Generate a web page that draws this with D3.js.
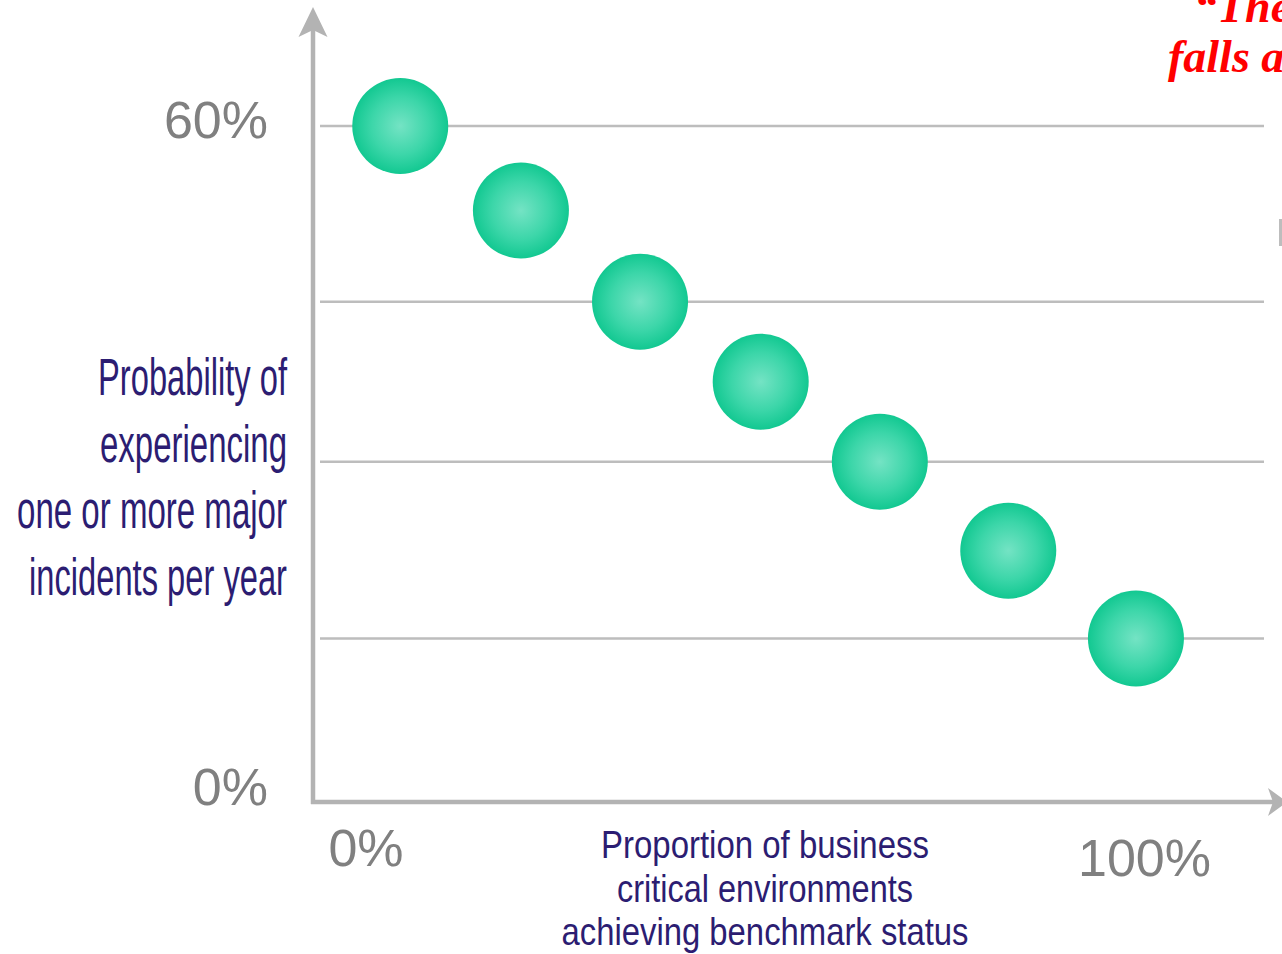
<!DOCTYPE html>
<html>
<head>
<meta charset="utf-8">
<script src="https://cdn.jsdelivr.net/npm/d3@7"></script>
<style>
  html, body { margin: 0; padding: 0; background: #fff; overflow: hidden; }
  svg { display: block; }
</style>
</head>
<body>
<svg id="chart"></svg>
<script>
// values (x = % of environments at benchmark, y = % probability)
const xValues = [4.4, 19.9, 35.2, 50.7, 66.0, 82.5, 98.9];
const yValues = [60, 52.4, 44.2, 37.0, 29.8, 21.8, 13.9];
const gridValues = [60, 44.2, 29.8, 13.9];
const yTicks = [0, 60];
const xTicks = [0, 100];
const yTitle = ["Probability of", "experiencing", "one or more major", "incidents per year"];
const xTitle = ["Proportion of business", "critical environments", "achieving benchmark status"];
const quote = ["\u201CThe", "falls a"];

const W = 1282, H = 954;
const svg = d3.select("#chart").attr("width", W).attr("height", H);

const x = d3.scaleLinear().domain([0, 100]).range([366, 1144.5]);
const y = d3.scaleLinear().domain([0, 60]).range([793, 126]);

const axisX = 313, axisY = 802;
const axisColor = "#b3b3b3";

const defs = svg.append("defs");
const grad = defs.append("radialGradient").attr("id", "dotGrad")
    .attr("cx", "50%").attr("cy", "50%").attr("r", "50%");
grad.append("stop").attr("offset", "0%").attr("stop-color", "#74e3c4");
grad.append("stop").attr("offset", "60%").attr("stop-color", "#3cd6a9");
grad.append("stop").attr("offset", "100%").attr("stop-color", "#12c891");

// gridlines
svg.append("g")
    .selectAll("line")
    .data(gridValues)
    .enter()
    .append("line")
    .attr("x1", 320)
    .attr("x2", 1264)
    .attr("y1", d => y(d))
    .attr("y2", d => y(d))
    .attr("stroke", "#bdbdbd")
    .attr("stroke-width", 2.5);

// axes with arrow heads
svg.append("line")
    .attr("x1", axisX).attr("x2", axisX)
    .attr("y1", axisY + 2).attr("y2", 30)
    .attr("stroke", axisColor).attr("stroke-width", 4.5);
svg.append("path")
    .attr("d", `M${axisX},7 L${axisX + 14.5},37 L${axisX},30 L${axisX - 14.5},37 Z`)
    .attr("fill", axisColor);

svg.append("line")
    .attr("x1", axisX - 2).attr("x2", 1274)
    .attr("y1", axisY).attr("y2", axisY)
    .attr("stroke", axisColor).attr("stroke-width", 4.5);
svg.append("path")
    .attr("d", `M1287,${axisY} L1268,${axisY - 14} L1273,${axisY} L1268,${axisY + 14} Z`)
    .attr("fill", axisColor);

// small mark on the right edge
svg.append("rect")
    .attr("x", 1279).attr("y", 219).attr("width", 4).attr("height", 27)
    .attr("fill", "#bdbdbd");

// tick labels
svg.append("g")
    .selectAll("text")
    .data(yTicks)
    .enter()
    .append("text")
    .attr("x", 268)
    .attr("y", d => y(d) + 12)
    .attr("text-anchor", "end")
    .attr("font-family", "'Liberation Sans', Arial, sans-serif")
    .attr("font-size", 52)
    .attr("fill", "#808080")
    .text(d => d + "%");

const xTickY = [866, 876];
svg.append("g")
    .selectAll("text")
    .data(xTicks)
    .enter()
    .append("text")
    .attr("x", d => x(d))
    .attr("y", (d, i) => xTickY[i])
    .attr("text-anchor", "middle")
    .attr("font-family", "'Liberation Sans', Arial, sans-serif")
    .attr("font-size", 52)
    .attr("fill", "#808080")
    .text(d => d + "%");

// dots
svg.append("g")
    .selectAll("circle")
    .data(xValues.map((v, i) => [v, yValues[i]]))
    .enter()
    .append("circle")
    .attr("cx", d => x(d[0]))
    .attr("cy", d => y(d[1]))
    .attr("r", 48)
    .attr("fill", "url(#dotGrad)");

// axis titles (condensed look)
const titleColor = "#2c1d72";
const yTitleWidths = [189, 187, 270, 258];
svg.append("g")
    .selectAll("text")
    .data(yTitle)
    .enter()
    .append("text")
    .attr("x", 287)
    .attr("y", (d, i) => 395 + i * 66.5)
    .attr("text-anchor", "end")
    .attr("font-family", "'Liberation Sans', Arial, sans-serif")
    .attr("font-size", 51)
    .attr("fill", titleColor)
    .attr("textLength", (d, i) => yTitleWidths[i])
    .attr("lengthAdjust", "spacingAndGlyphs")
    .text(d => d);

const xTitleWidths = [328, 296, 407];
svg.append("g")
    .selectAll("text")
    .data(xTitle)
    .enter()
    .append("text")
    .attr("x", 765)
    .attr("y", (d, i) => 858 + i * 43.5)
    .attr("text-anchor", "middle")
    .attr("font-family", "'Liberation Sans', Arial, sans-serif")
    .attr("font-size", 39)
    .attr("fill", titleColor)
    .attr("textLength", (d, i) => xTitleWidths[i])
    .attr("lengthAdjust", "spacingAndGlyphs")
    .text(d => d);

// red quote, cut off at the right edge as in the source slide
const quoteX = [1194, 1168];
svg.append("g")
    .selectAll("text")
    .data(quote)
    .enter()
    .append("text")
    .attr("x", (d, i) => quoteX[i])
    .attr("y", (d, i) => 22 + i * 50)
    .attr("font-family", "'Liberation Serif', 'Times New Roman', serif")
    .attr("font-style", "italic")
    .attr("font-weight", "bold")
    .attr("font-size", 46)
    .attr("fill", "#ff0000")
    .text(d => d);
</script>
</body>
</html>
